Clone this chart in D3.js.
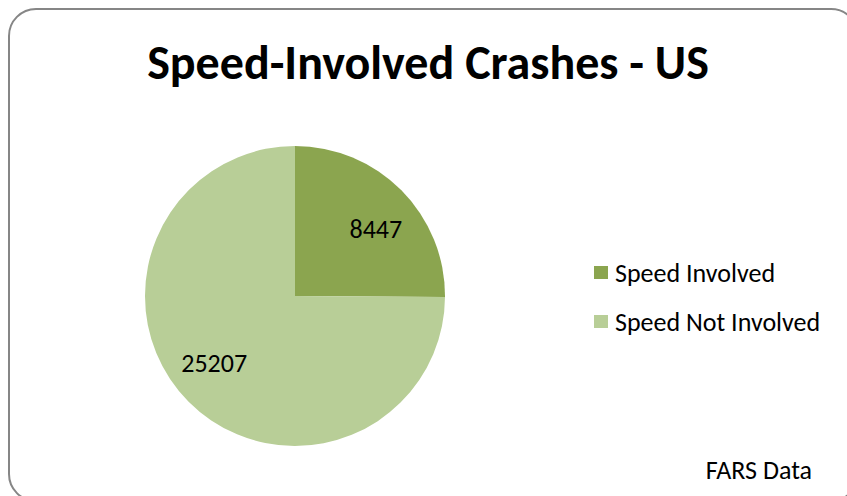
<!DOCTYPE html>
<html>
<head>
<meta charset="utf-8">
<script src="https://cdn.jsdelivr.net/npm/d3@7"></script>
<style>
  body { margin: 0; background: #fff; }
  svg { display: block; font-family: Carlito, Calibri, "Open Sans", sans-serif; }
</style>
</head>
<body>
<svg id="chart"></svg>
<script>
// données du graphique
var categories = ["Speed Involved", "Speed Not Involved"];
var valeurs = [8447, 25207];
var couleurs = ["#8ba54f", "#b8ce97"];
var titre = "Speed-Involved Crashes - US";
var source = "FARS Data";

var W = 847, H = 496;
var svg = d3.select("#chart").attr("width", W).attr("height", H);

// cadre arrondi
svg.append("rect")
    .attr("x", 9).attr("y", 9)
    .attr("width", 849).attr("height", 492)
    .attr("rx", 27).attr("ry", 27)
    .attr("fill", "#fff")
    .attr("stroke", "#868686")
    .attr("stroke-width", 2);

svg.append("text")
    .attr("x", 428).attr("y", 79)
    .attr("text-anchor", "middle")
    .style("font-weight", "bold")
    .style("font-size", "48px")
    .attr("fill", "#000")
    .text(titre);

var data = categories.map(function(c, i) { return { nom: c, val: valeurs[i] }; });
var color = d3.scaleOrdinal().domain(categories).range(couleurs);

var pie = d3.pie().sort(null).value(function(d) { return d.val; });
var arc = d3.arc().innerRadius(0).outerRadius(150);
var arcLabel = d3.arc().innerRadius(105).outerRadius(105);
var decal = 0.09; // léger décalage angulaire des étiquettes

var g = svg.append("g").attr("transform", "translate(295,296)");
var parts = pie(data);

g.selectAll("path")
    .data(parts)
    .enter().append("path")
    .attr("d", arc)
    .attr("fill", function(d) { return color(d.data.nom); });

g.selectAll("text")
    .data(parts)
    .enter().append("text")
    .attr("transform", function(d) {
        var c = arcLabel.centroid({ startAngle: d.startAngle + decal, endAngle: d.endAngle + decal });
        return "translate(" + c + ")";
    })
    .attr("text-anchor", "middle")
    .attr("dy", "0.35em")
    .style("font-size", "26px")
    .text(function(d) { return d.data.val; });

// légende
var legend = svg.append("g").attr("transform", "translate(594,266)");
var item = legend.selectAll("g")
    .data(categories)
    .enter().append("g")
    .attr("transform", function(d, i) { return "translate(0," + (i * 49) + ")"; });
item.append("rect")
    .attr("width", 14).attr("height", 13)
    .attr("fill", function(d) { return color(d); });
item.append("text")
    .attr("x", 21).attr("y", 7)
    .attr("dy", "0.35em")
    .style("font-size", "26px")
    .text(function(d) { return d; });

svg.append("text")
    .attr("x", 812).attr("y", 479)
    .attr("text-anchor", "end")
    .style("font-size", "26px")
    .text(source);
</script>
</body>
</html>
